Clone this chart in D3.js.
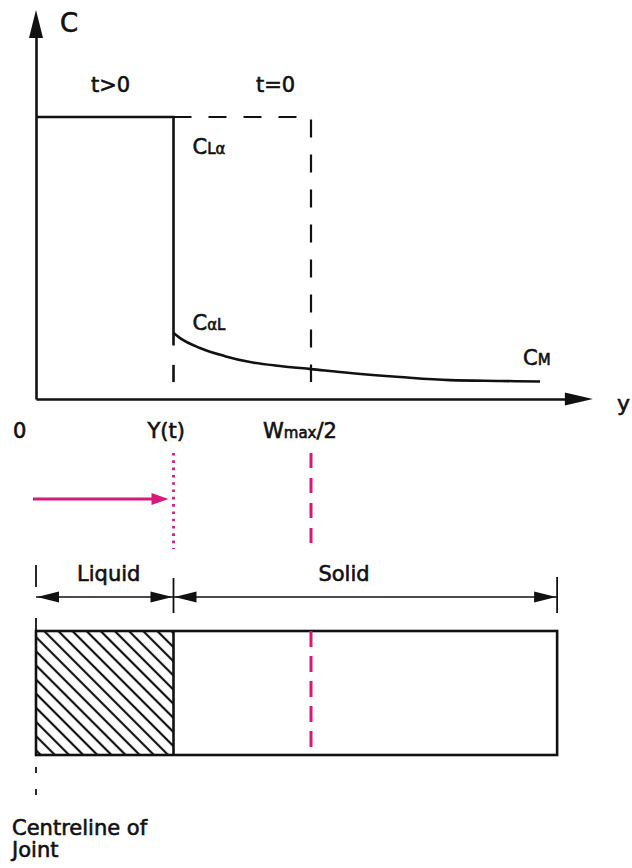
<!DOCTYPE html>
<html>
<head>
<meta charset="utf-8">
<script src="https://cdn.jsdelivr.net/npm/d3@7"></script>
<style>
  body { margin: 0; background: #fff; }
  text { font-family: "DejaVu Sans", sans-serif; fill: #111; stroke: #111; stroke-width: 0.6px; }
</style>
</head>
<body>
<div id="diagram"></div>
<script>
// concentration profile (y in units of Wmax/2, C relative to C_La)
let profileY = [0.5, 0.524, 0.596, 0.687, 0.778, 0.887, 1.0, 1.142, 1.324, 1.505, 1.687, 1.833];
let profileC = [0.234, 0.216, 0.181, 0.152, 0.131, 0.117, 0.106, 0.092, 0.078, 0.067, 0.064, 0.062];

// key positions on the y axis
let markValues = [0, 0.5, 1.0];
let markLabels = ["0", "Y(t)", "Wmax/2"];
let interfaceY = 0.5, halfWidth = 1.0, jointEnd = 1.895, axisEnd = 2.025;
let cLiquid = 1.0, cNeck = 0.19, cAxisTop = 1.379;

let w = 632, h = 868;
let ink = "#111", magenta = "#d6197a";

let svg = d3.select("#diagram")
    .append("svg")
    .attr("width", w)
    .attr("height", h);

let xScale = d3.scaleLinear().domain([0, 1]).range([36, 311]);
let cScale = d3.scaleLinear().domain([0, 1]).range([399, 117]);

// hatch for the liquid zone
svg.append("defs")
    .append("pattern")
    .attr("id", "hatch")
    .attr("patternUnits", "userSpaceOnUse")
    .attr("width", 10).attr("height", 10)
    .attr("patternTransform", "rotate(-45)")
    .append("line")
    .attr("x1", 5).attr("y1", 0).attr("x2", 5).attr("y2", 10)
    .attr("stroke", ink).attr("stroke-width", 2.2);

function arrowHead(tipX, tipY, dir, len, half, color) {
    // dir: "right", "left", "up"
    let pts;
    if (dir == "right") pts = [[tipX, tipY], [tipX - len, tipY - half], [tipX - len, tipY + half]];
    else if (dir == "left") pts = [[tipX, tipY], [tipX + len, tipY - half], [tipX + len, tipY + half]];
    else pts = [[tipX, tipY], [tipX - half, tipY + len], [tipX + half, tipY + len]];
    svg.append("polygon")
        .attr("points", pts.map(p => p.join(",")).join(" "))
        .attr("fill", color);
}

// ---- axes ----
let xAxisScale = xScale.copy().domain([0, axisEnd]).range([36, xScale(axisEnd) - 20]);
svg.append("g")
    .attr("class", "x axis")
    .attr("transform", "translate(0," + cScale(0) + ")")
    .call(d3.axisBottom(xAxisScale).tickValues([]).tickSizeOuter(0))
    .select(".domain").attr("stroke", ink).attr("stroke-width", 2.6);
arrowHead(xScale(axisEnd), cScale(0), "right", 28, 6.5, ink);

let cAxisScale = cScale.copy().domain([0, cAxisTop]).range([cScale(0), cScale(cAxisTop) + 20]);
svg.append("g")
    .attr("class", "y axis")
    .attr("transform", "translate(" + xScale(0) + ",0)")
    .call(d3.axisLeft(cAxisScale).tickValues([]).tickSizeOuter(0))
    .select(".domain").attr("stroke", ink).attr("stroke-width", 2.6);
arrowHead(xScale(0), cScale(cAxisTop), "up", 28, 7, ink);

// ---- profiles ----
let line = d3.line().x(d => xScale(d[0])).y(d => cScale(d[1]));

// t = 0 profile (dashed)
svg.append("path")
    .attr("d", line([[interfaceY, cLiquid], [halfWidth, cLiquid], [halfWidth, 0.06]]))
    .attr("fill", "none").attr("stroke", ink).attr("stroke-width", 2.2)
    .attr("stroke-dasharray", "18,17");

// t > 0 profile (solid)
svg.append("path")
    .attr("d", line([[0, cLiquid], [interfaceY, cLiquid], [interfaceY, cNeck]]))
    .attr("fill", "none").attr("stroke", ink).attr("stroke-width", 2.6);
svg.append("path")
    .attr("d", line([[interfaceY, 0.121], [interfaceY, 0.06]]))
    .attr("fill", "none").attr("stroke", ink).attr("stroke-width", 2.6);

let curve = d3.line()
    .x((d, i) => xScale(profileY[i]))
    .y(d => cScale(d))
    .curve(d3.curveMonotoneX);
svg.append("path")
    .attr("d", curve(profileC))
    .attr("fill", "none").attr("stroke", ink).attr("stroke-width", 2.6);

// ---- labels on graph ----
function label(x, y, parts, anchor) {
    let t = svg.append("text").attr("x", x).attr("y", y)
        .attr("text-anchor", anchor || "start");
    parts.forEach(p => t.append("tspan").attr("font-size", p[1]).text(p[0]));
    return t;
}
label(60, 32, [["C", 26]]);
label(xScale(0.2), 92, [["t>0", 21]]);
label(xScale(0.8), 92, [["t=0", 21]]);
label(xScale(interfaceY) + 19, 154, [["C", 21], ["Lα", 15]]);
label(xScale(interfaceY) + 19, 330, [["C", 21], ["αL", 15]]);
label(xScale(profileY[profileY.length - 1]) - 17, 365, [["C", 21], ["M", 15]]);
label(xScale(axisEnd) + 24, 411, [["y", 22]]);

let markDx = [-23, -26, -48];
markValues.forEach((v, i) => {
    if (markLabels[i] == "Wmax/2")
        label(xScale(v) + markDx[i], 438, [["W", 21], ["max", 15], ["/2", 21]]);
    else
        label(xScale(v) + markDx[i], 438, [[markLabels[i], 21]]);
});

// ---- interface motion (magenta) ----
svg.append("line")
    .attr("x1", xScale(0) - 3).attr("x2", xScale(interfaceY) - 20)
    .attr("y1", 499).attr("y2", 499)
    .attr("stroke", magenta).attr("stroke-width", 3);
arrowHead(xScale(interfaceY) - 5, 499, "right", 17, 6, magenta);

svg.append("line")
    .attr("x1", xScale(interfaceY)).attr("x2", xScale(interfaceY))
    .attr("y1", 453).attr("y2", 549)
    .attr("stroke", magenta).attr("stroke-width", 2.8)
    .attr("stroke-dasharray", "2.6,4.7");
svg.append("line")
    .attr("x1", xScale(halfWidth)).attr("x2", xScale(halfWidth))
    .attr("y1", 453).attr("y2", 549)
    .attr("stroke", magenta).attr("stroke-width", 3)
    .attr("stroke-dasharray", "15,10");

// ---- dimension lines ----
let dimY = 597;
function dimTick(v, y1, y2) {
    svg.append("line")
        .attr("x1", xScale(v)).attr("x2", xScale(v))
        .attr("y1", y1).attr("y2", y2)
        .attr("stroke", ink).attr("stroke-width", 1.8);
}
dimTick(0, 565, 587);
dimTick(interfaceY, 578, 613);
dimTick(jointEnd, 577, 613);

[[0, interfaceY], [interfaceY, jointEnd]].forEach(seg => {
    svg.append("line")
        .attr("x1", xScale(seg[0])).attr("x2", xScale(seg[1]))
        .attr("y1", dimY).attr("y2", dimY)
        .attr("stroke", ink).attr("stroke-width", 1.5);
    arrowHead(xScale(seg[0]) + 1, dimY, "left", 22, 5.5, ink);
    arrowHead(xScale(seg[1]) - 1, dimY, "right", 22, 5.5, ink);
});
label((xScale(0) + xScale(interfaceY)) / 2 + 4, 581, [["Liquid", 21]], "middle");
label(xScale(halfWidth) + 33, 581, [["Solid", 21]], "middle");

// ---- joint section ----
let rectTop = 631, rectBottom = 755;
svg.append("rect")
    .attr("x", xScale(0)).attr("y", rectTop)
    .attr("width", xScale(interfaceY) - xScale(0))
    .attr("height", rectBottom - rectTop)
    .attr("fill", "url(#hatch)");
svg.append("rect")
    .attr("x", xScale(0)).attr("y", rectTop)
    .attr("width", xScale(jointEnd) - xScale(0))
    .attr("height", rectBottom - rectTop)
    .attr("fill", "none").attr("stroke", ink).attr("stroke-width", 2.6);
svg.append("line")
    .attr("x1", xScale(interfaceY)).attr("x2", xScale(interfaceY))
    .attr("y1", rectTop).attr("y2", rectBottom)
    .attr("stroke", ink).attr("stroke-width", 2.6);
svg.append("line")
    .attr("x1", xScale(halfWidth)).attr("x2", xScale(halfWidth))
    .attr("y1", rectTop).attr("y2", rectBottom)
    .attr("stroke", magenta).attr("stroke-width", 3)
    .attr("stroke-dasharray", "16,9");

// centreline marks
[[618, rectTop], [767, 773], [789, 795]].forEach(s => dimTick(0, s[0], s[1]));

label(12, 835, [["Centreline of", 21]]);
label(12, 857, [["Joint", 21]]);
</script>
</body>
</html>
